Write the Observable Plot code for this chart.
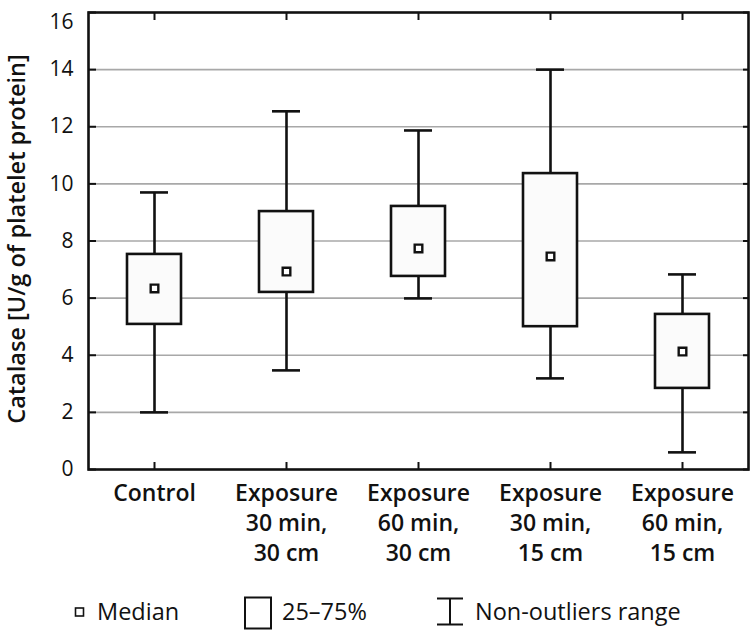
<!DOCTYPE html>
<html>
<head>
<meta charset="utf-8">
<script src="https://cdn.jsdelivr.net/npm/d3@7"></script>
<script src="https://cdn.jsdelivr.net/npm/@observablehq/plot@0.6"></script>
<style>
  body { margin: 0; background: #fff; font-family: "Open Sans", sans-serif; }
  #wrap { position: relative; width: 750px; height: 630px; }
  #legend { position: absolute; left: 0; top: 580px; width: 750px; height: 50px; }
  .lg { position: absolute; font-size: 23.5px; color: #111; line-height: 24px; }
</style>
</head>
<body>
<div id="wrap">
  <div id="chart"></div>
  <div id="legend">
    <svg width="750" height="50" style="position:absolute;left:0;top:0">
      <rect x="75.5" y="28" width="8" height="8" fill="#fff" stroke="#111" stroke-width="1.6"/>
      <rect x="245" y="17.5" width="26" height="31" fill="#fff" stroke="#111" stroke-width="2"/>
      <path d="M437,18.5 H463 M450,18.5 V44.5 M437,44.5 H463" stroke="#111" stroke-width="2" fill="none"/>
    </svg>
    <div class="lg" style="left:97px;top:19px">Median</div>
    <div class="lg" style="left:282px;top:19px">25–75%</div>
    <div class="lg" style="left:475px;top:19px">Non-outliers range</div>
  </div>
</div>
<script>
const categories = ["Control", "Exposure\n30 min,\n30 cm", "Exposure\n60 min,\n30 cm", "Exposure\n30 min,\n15 cm", "Exposure\n60 min,\n15 cm"];
const whiskerLow = [2.0, 3.47, 5.99, 3.19, 0.6];
const q1 = [5.08, 6.2, 6.76, 5.0, 2.84];
const median = [6.34, 6.93, 7.74, 7.46, 4.13];
const q3 = [7.53, 9.03, 9.21, 10.36, 5.43];
const whiskerHigh = [9.7, 12.54, 11.87, 14.0, 6.83];
const yTicks = [0, 2, 4, 6, 8, 10, 12, 14, 16];
const gridTicks = [2, 4, 6, 8, 10, 12, 14];
const yLabel = "Catalase [U/g of platelet protein]";

const data = categories.map((c, i) => ({
  cat: c, lo: whiskerLow[i], q1: q1[i], med: median[i], q3: q3[i], hi: whiskerHigh[i]
}));

const font = "Open Sans, sans-serif";

const chart = Plot.plot({
  width: 750,
  height: 580,
  marginLeft: 88,
  marginRight: 2,
  marginTop: 12,
  marginBottom: 111,
  style: { fontFamily: font, color: "#111", background: "#fff", overflow: "visible" },
  x: { domain: categories, padding: 0 },
  y: { domain: [0, 16] },
  marks: [
    Plot.ruleY(gridTicks, { stroke: "#a8a8a8", strokeWidth: 1.6 }),
    Plot.ruleX(data, { x: "cat", y1: "lo", y2: "hi", stroke: "#111", strokeWidth: 2.6 }),
    Plot.tickY(data, { x: "cat", y: "lo", stroke: "#111", strokeWidth: 2.6, inset: 52 }),
    Plot.tickY(data, { x: "cat", y: "hi", stroke: "#111", strokeWidth: 2.6, inset: 52 }),
    Plot.barY(data, { x: "cat", y1: "q1", y2: "q3", fill: "#fbfbfb", stroke: "#111", strokeWidth: 2.6, insetLeft: 39, insetRight: 39 }),
    Plot.dot(data, { x: "cat", y: "med", symbol: "square", r: 4.3, fill: "#fff", stroke: "#111", strokeWidth: 2.4 }),
    Plot.frame({ stroke: "#111", strokeWidth: 2.6 }),
    Plot.axisY({ anchor: "left", ticks: yTicks, tickSize: -8, tickPadding: 23, fontSize: 21, label: null, stroke: "#111", strokeWidth: 2, textStroke: "none" }),
    Plot.axisY({ anchor: "right", ticks: yTicks, tickSize: -6, tickFormat: () => "", label: null, stroke: "#111", strokeWidth: 2 }),
    Plot.axisX({ anchor: "top", tickSize: -7, tickFormat: () => "", label: null, stroke: "#111", strokeWidth: 2 }),
    Plot.axisX({ anchor: "bottom", tickSize: -7, tickPadding: 17, fontSize: 23, fontWeight: 600, lineHeight: 1.3, label: null, stroke: "#111", strokeWidth: 2 }),
    Plot.text([yLabel], { frameAnchor: "left", textAnchor: "middle", rotate: -90, dx: -71, dy: -2, fontSize: 23.5, fontWeight: 600, fill: "#111" })
  ]
});
// nudge the top tick label slightly so it stays inside the picture
chart.querySelectorAll("[aria-label='y-axis tick label'] text").forEach(t => {
  if (t.textContent === "16") t.setAttribute("dy", "0.45em");
});
document.getElementById("chart").appendChild(chart);
</script>
</body>
</html>
